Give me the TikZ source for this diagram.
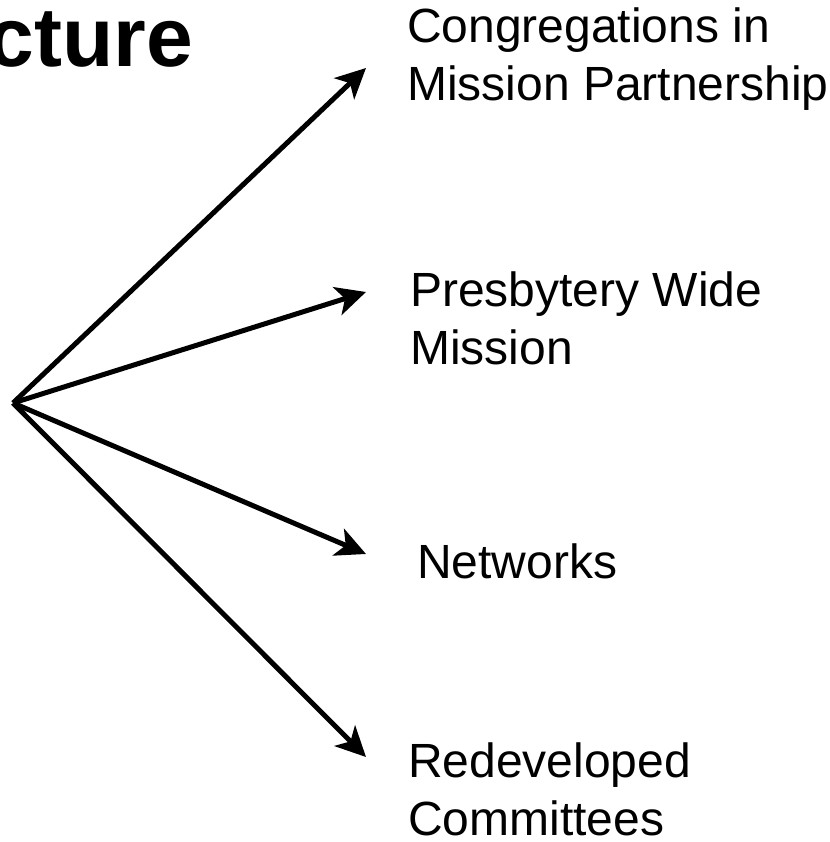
\documentclass[tikz,border=0pt]{standalone}
\usepackage{fontspec}
\setmainfont{Liberation Sans}
\usepackage{tikz}
\usetikzlibrary{arrows.meta}

\tikzset{
    branch/.style={line width=5pt, -{Stealth[length=30pt, width=29pt, inset=8pt]}},
    itemtext/.style={anchor=base west, inner sep=0pt, align=left, font=\fontsize{48}{58}\selectfont}
}

\begin{document}
\begin{tikzpicture}[x=1pt, y=-1pt]
    % Fix the page size
    \useasboundingbox (0,0) rectangle (829,842);

    % Title, cut off at the left edge
    \node[anchor=base east, inner sep=0pt, font=\fontsize{84}{100}\selectfont\bfseries] (Title) at (193,67) {cture};

    % Define the hub and the arrow tips
    \coordinate (Hub) at (13,403);
    \coordinate (T1) at (366,68);
    \coordinate (T2) at (366,292);
    \coordinate (T3) at (366,554);
    \coordinate (T4) at (366,757);

    % Draw the branches
    \foreach \i in {1, ..., 4}
        \draw[branch] (Hub) -- (T\i);

    % Texts next to the tips (base = last line)
    \node[itemtext] (Congregations) at (407,101) {Congregations in\\Mission Partnership};
    \node[itemtext] (Presbytery) at (410,364) {Presbytery Wide\\Mission};
    \node[itemtext] (Networks) at (417,578) {Networks};
    \node[itemtext] (Redeveloped) at (408,835) {Redeveloped\\Committees};

\end{tikzpicture}
\end{document}
